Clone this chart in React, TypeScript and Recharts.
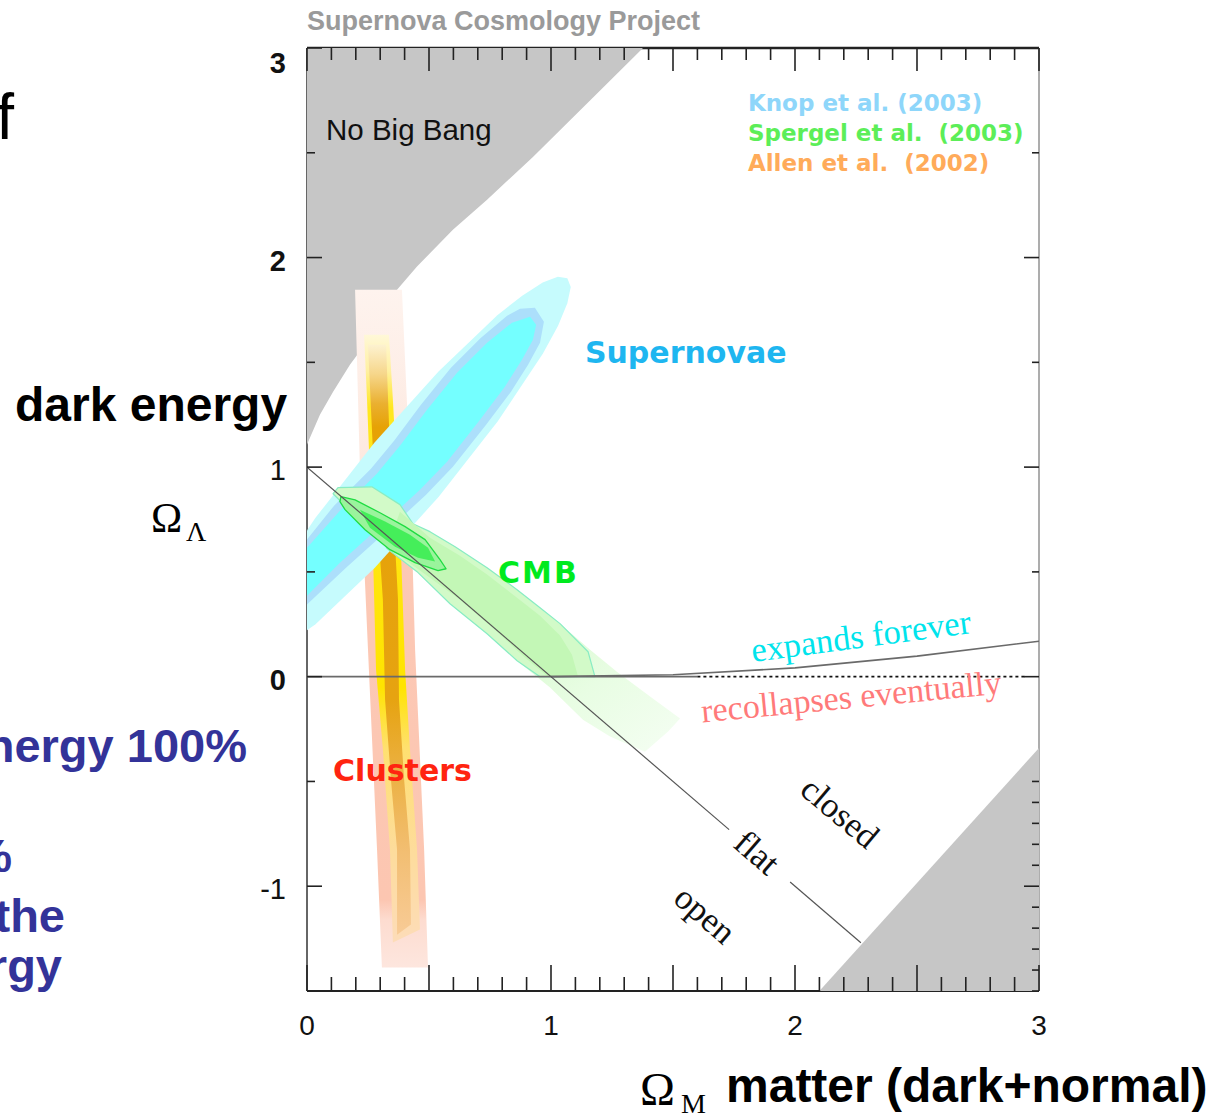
import React from 'react';
import { ComposedChart, Scatter, XAxis, YAxis } from 'recharts';

const SANS = "'Liberation Sans', Arial, Helvetica, sans-serif";
const SERIF = "'Liberation Serif', 'Times New Roman', serif";
const DEJAVU = "'DejaVu Sans', Verdana, sans-serif";

// ---------- ticks ----------
const xTicks = [0, 0.1, 0.2, 0.3, 0.4, 0.5, 0.6, 0.7, 0.8, 0.9, 1, 1.1, 1.2, 1.3, 1.4, 1.5, 1.6, 1.7, 1.8, 1.9, 2, 2.1, 2.2, 2.3, 2.4, 2.5, 2.6, 2.7, 2.8, 2.9, 3];
const xTickLabels = [0, 1, 2, 3];
const yTicksLeft = [-1.5, -1, -0.5, 0, 0.5, 1, 1.5, 2, 2.5, 3];
const yTicksRight = [-1.5, -1.4, -1.3, -1.2, -1.1, -1, -0.9, -0.8, -0.7, -0.6, -0.5, 0, 0.5, 1, 1.5, 2, 2.5, 3];
const yTickLabels = [-1, 0, 1, 2, 3];
const yTickBold = [0, 2, 3];

// ---------- regions (Omega_M, Omega_Lambda) ----------
const noBigBang = [
  { x: 0, y: 3 }, { x: 1.377, y: 3 }, { x: 1.16, y: 2.75 }, { x: 0.926, y: 2.48 }, { x: 0.738, y: 2.276 },
  { x: 0.598, y: 2.133 }, { x: 0.45, y: 1.956 }, { x: 0.369, y: 1.846 }, { x: 0.311, y: 1.727 }, { x: 0.246, y: 1.598 },
  { x: 0.176, y: 1.489 }, { x: 0.107, y: 1.36 }, { x: 0.053, y: 1.25 }, { x: 0.012, y: 1.14 }, { x: 0, y: 1.107 },
];
const lowerGray = [{ x: 2.1, y: -1.5 }, { x: 3, y: -1.5 }, { x: 3, y: -0.34 }];

// ---------- clusters ----------
const clustersOuter = [
  { x: 0.197, y: 1.846 }, { x: 0.389, y: 1.846 }, { x: 0.422, y: 0.988 }, { x: 0.443, y: 0.129 }, { x: 0.48, y: -0.825 },
  { x: 0.496, y: -1.388 }, { x: 0.307, y: -1.388 }, { x: 0.287, y: -0.825 }, { x: 0.25, y: 0.129 }, { x: 0.217, y: 0.988 },
];
const clustersYellow = [
  { x: 0.234, y: 1.632 }, { x: 0.336, y: 1.632 }, { x: 0.352, y: 1.322 }, { x: 0.385, y: 0.606 }, { x: 0.402, y: 0.033 },
  { x: 0.422, y: -0.348 }, { x: 0.451, y: -0.825 }, { x: 0.463, y: -1.207 }, { x: 0.352, y: -1.269 }, { x: 0.34, y: -0.825 },
  { x: 0.311, y: -0.348 }, { x: 0.283, y: 0.033 }, { x: 0.27, y: 0.606 }, { x: 0.246, y: 1.322 },
];
const clustersCore = [
  { x: 0.25, y: 1.584 }, { x: 0.324, y: 1.584 }, { x: 0.34, y: 1.083 }, { x: 0.373, y: 0.367 }, { x: 0.377, y: -0.11 },
  { x: 0.398, y: -0.491 }, { x: 0.422, y: -0.825 }, { x: 0.426, y: -1.183 }, { x: 0.369, y: -1.231 }, { x: 0.369, y: -0.825 },
  { x: 0.344, y: -0.491 }, { x: 0.32, y: -0.11 }, { x: 0.311, y: 0.367 }, { x: 0.27, y: 1.083 },
];

// ---------- supernovae ----------
const snOuter = [
  { x: 1.067, y: 1.901 }, { x: 1.081, y: 1.859 }, { x: 1.067, y: 1.782 }, { x: 1.029, y: 1.675 }, { x: 0.967, y: 1.542 },
  { x: 0.782, y: 1.219 }, { x: 0.54, y: 0.859 }, { x: 0.277, y: 0.519 }, { x: 0.035, y: 0.25 }, { x: 0, y: 0.221 },
  { x: 0, y: 0.698 }, { x: 0.034, y: 0.757 }, { x: 0.276, y: 1.116 }, { x: 0.539, y: 1.456 }, { x: 0.78, y: 1.725 },
  { x: 0.882, y: 1.818 }, { x: 0.966, y: 1.881 }, { x: 1.028, y: 1.909 },
];
const snRing = [
  { x: 0.934, y: 1.761 }, { x: 0.971, y: 1.694 }, { x: 0.955, y: 1.594 }, { x: 0.906, y: 1.489 }, { x: 0.836, y: 1.36 },
  { x: 0.734, y: 1.202 }, { x: 0.598, y: 1.002 }, { x: 0.488, y: 0.868 }, { x: 0.324, y: 0.692 }, { x: 0.16, y: 0.52 },
  { x: 0, y: 0.344 }, { x: 0, y: 0.654 }, { x: 0.111, y: 0.816 }, { x: 0.262, y: 0.992 }, { x: 0.357, y: 1.126 },
  { x: 0.467, y: 1.298 }, { x: 0.59, y: 1.474 }, { x: 0.713, y: 1.617 }, { x: 0.82, y: 1.722 }, { x: 0.873, y: 1.756 },
];
const snInner = [
  { x: 0.914, y: 1.718 }, { x: 0.939, y: 1.679 }, { x: 0.926, y: 1.608 }, { x: 0.881, y: 1.512 }, { x: 0.811, y: 1.384 },
  { x: 0.709, y: 1.226 }, { x: 0.574, y: 1.026 }, { x: 0.463, y: 0.892 }, { x: 0.299, y: 0.716 }, { x: 0.135, y: 0.544 },
  { x: 0, y: 0.386 }, { x: 0, y: 0.615 }, { x: 0.135, y: 0.792 }, { x: 0.287, y: 0.969 }, { x: 0.381, y: 1.102 },
  { x: 0.492, y: 1.274 }, { x: 0.615, y: 1.45 }, { x: 0.738, y: 1.594 }, { x: 0.84, y: 1.689 },
];

// ---------- CMB ----------
const cmbFaint = [
  { x: 0.127, y: 0.902 }, { x: 0.266, y: 0.906 }, { x: 0.381, y: 0.821 }, { x: 0.434, y: 0.73 }, { x: 0.504, y: 0.692 },
  { x: 0.607, y: 0.62 }, { x: 0.738, y: 0.52 }, { x: 0.861, y: 0.415 }, { x: 0.955, y: 0.329 }, { x: 1.037, y: 0.253 },
  { x: 1.16, y: 0.129 }, { x: 1.27, y: 0.024 }, { x: 1.406, y: -0.095 }, { x: 1.529, y: -0.2 }, { x: 1.48, y: -0.262 },
  { x: 1.385, y: -0.358 }, { x: 1.242, y: -0.286 }, { x: 1.131, y: -0.205 }, { x: 0.996, y: -0.052 }, { x: 0.861, y: 0.076 },
  { x: 0.738, y: 0.205 }, { x: 0.586, y: 0.348 }, { x: 0.451, y: 0.501 }, { x: 0.328, y: 0.611 }, { x: 0.287, y: 0.711 },
  { x: 0.148, y: 0.825 }, { x: 0.107, y: 0.873 },
];
const cmbMain = [
  { x: 0.127, y: 0.902 }, { x: 0.266, y: 0.906 }, { x: 0.381, y: 0.821 }, { x: 0.434, y: 0.73 }, { x: 0.504, y: 0.692 },
  { x: 0.607, y: 0.62 }, { x: 0.738, y: 0.52 }, { x: 0.861, y: 0.415 }, { x: 0.955, y: 0.329 }, { x: 1.037, y: 0.253 },
  { x: 1.152, y: 0.119 }, { x: 1.18, y: 0 }, { x: 0.955, y: 0 }, { x: 0.861, y: 0.076 }, { x: 0.738, y: 0.205 },
  { x: 0.586, y: 0.348 }, { x: 0.451, y: 0.501 }, { x: 0.328, y: 0.611 }, { x: 0.287, y: 0.711 }, { x: 0.148, y: 0.825 },
  { x: 0.107, y: 0.873 },
];
const cmbMid = [
  { x: 0.381, y: 0.787 }, { x: 0.504, y: 0.663 }, { x: 0.627, y: 0.577 }, { x: 0.738, y: 0.487 }, { x: 0.861, y: 0.377 },
  { x: 0.955, y: 0.291 }, { x: 1.037, y: 0.196 }, { x: 1.086, y: 0.105 }, { x: 1.111, y: 0 }, { x: 0.988, y: 0 },
  { x: 0.893, y: 0.091 }, { x: 0.77, y: 0.224 }, { x: 0.627, y: 0.367 }, { x: 0.504, y: 0.472 }, { x: 0.402, y: 0.558 },
  { x: 0.332, y: 0.63 },
];
const cmbInnerOutline = [
  { x: 0.139, y: 0.859 }, { x: 0.197, y: 0.844 }, { x: 0.299, y: 0.782 }, { x: 0.402, y: 0.716 }, { x: 0.484, y: 0.654 },
  { x: 0.545, y: 0.558 }, { x: 0.57, y: 0.515 }, { x: 0.537, y: 0.506 }, { x: 0.443, y: 0.544 }, { x: 0.34, y: 0.606 },
  { x: 0.238, y: 0.701 }, { x: 0.156, y: 0.797 }, { x: 0.135, y: 0.835 },
];
const cmbInnerCore = [
  { x: 0.217, y: 0.797 }, { x: 0.32, y: 0.74 }, { x: 0.422, y: 0.677 }, { x: 0.496, y: 0.615 }, { x: 0.525, y: 0.549 },
  { x: 0.455, y: 0.568 }, { x: 0.361, y: 0.62 }, { x: 0.258, y: 0.711 },
];

// ---------- lines ----------
const zeroLine = [{ x: 0, y: 0 }, { x: 1.6, y: 0 }];
const expandBoundary = [{ x: 1, y: 0 }, { x: 1.5, y: 0.009 }, { x: 2, y: 0.042 }, { x: 2.5, y: 0.098 }, { x: 3, y: 0.169 }];
const zeroDotted = [{ x: 1.6, y: 0 }, { x: 2.94, y: 0 }];
const flatLineA = [{ x: 0, y: 1 }, { x: 1.73, y: -0.73 }];
const flatLineB = [{ x: 1.98, y: -0.98 }, { x: 2.27, y: -1.27 }];

// ---------- annotations ----------
const annotations = [
  { id: 'nbb', text: 'No Big Bang', x: 0.078, y: 2.61 },
  { id: 'knop', text: 'Knop et al. (2003)', x: 1.807, y: 2.739 },
  { id: 'sperg', text: 'Spergel et al.  (2003)', x: 1.807, y: 2.595 },
  { id: 'allen', text: 'Allen et al.  (2002)', x: 1.807, y: 2.452 },
  { id: 'sn', text: 'Supernovae', x: 1.139, y: 1.546 },
  { id: 'cmb', text: 'CMB', x: 0.783, y: 0.496 },
  { id: 'cl', text: 'Clusters', x: 0.107, y: -0.448 },
  { id: 'exp', text: 'expands forever', x: 2.27, y: 0.196 },
  { id: 'rec', text: 'recollapses eventually', x: 2.23, y: -0.095 },
  { id: 'closed', text: 'closed', x: 2.184, y: -0.649 },
  { id: 'flat', text: 'flat', x: 1.844, y: -0.84 },
  { id: 'open', text: 'open', x: 1.631, y: -1.136 },
];

type AStyle = { color: string; size: number; weight?: number; font: string; anchor?: string; rot?: number; ls?: number };
const annotationStyle: Record<string, AStyle> = {
  nbb: { color: '#111', size: 29.5, weight: 400, font: SANS },
  knop: { color: '#8ed6fa', size: 23, weight: 700, font: DEJAVU },
  sperg: { color: '#5cee58', size: 23, weight: 700, font: DEJAVU },
  allen: { color: '#ffab5a', size: 23, weight: 700, font: DEJAVU },
  sn: { color: '#1eb6f0', size: 30, weight: 700, font: DEJAVU },
  cmb: { color: '#00ea1e', size: 30, weight: 700, font: DEJAVU, ls: 2 },
  cl: { color: '#ff2410', size: 30, weight: 700, font: DEJAVU },
  exp: { color: '#00e4ec', size: 34.5, font: SERIF, anchor: 'middle', rot: -7.5 },
  rec: { color: '#ff7a7a', size: 34, font: SERIF, anchor: 'middle', rot: -5.5 },
  closed: { color: '#111', size: 35, font: SERIF, anchor: 'middle', rot: 40 },
  flat: { color: '#111', size: 35, font: SERIF, anchor: 'middle', rot: 41 },
  open: { color: '#111', size: 35, font: SERIF, anchor: 'middle', rot: 41 },
};

// ---------- renderers ----------
type Grad = { id: string; x2?: number; y2?: number; stops: [number, string][] };
type PolyOpts = { stroke?: string; sw?: number; grad?: Grad; closed?: boolean; dash?: string };

const polygon = (fill: string, opts: PolyOpts = {}) => (p: any) => {
  const pts: { x: number; y: number }[] = (p && p.points) || [];
  if (!pts.length) return <g />;
  const closed = opts.closed !== false;
  const d = pts.map((q, i) => `${i ? 'L' : 'M'}${q.x.toFixed(2)},${q.y.toFixed(2)}`).join(' ') + (closed ? ' Z' : '');
  const g = opts.grad;
  return (
    <g>
      {g && (
        <defs>
          <linearGradient id={g.id} x1="0" y1="0" x2={g.x2 ?? 0} y2={g.y2 ?? 1}>
            {g.stops.map(([o, c], i) => (
              <stop key={i} offset={o} stopColor={c} />
            ))}
          </linearGradient>
        </defs>
      )}
      <path
        d={d}
        fill={closed ? (g ? `url(#${g.id})` : fill) : 'none'}
        stroke={opts.stroke ?? 'none'}
        strokeWidth={opts.sw ?? 0}
        strokeDasharray={opts.dash}
        strokeLinejoin="round"
      />
    </g>
  );
};
const polyline = (stroke: string, sw: number, dash?: string) => polygon('none', { stroke, sw, closed: false, dash });

const Empty = () => <g />;

const AnnotationShape = (props: any) => {
  const d = props.payload ?? props;
  const st = annotationStyle[d.id];
  const { cx, cy } = props;
  if (!st || cx == null || cy == null) return <g />;
  return (
    <text
      x={cx}
      y={cy}
      textAnchor={(st.anchor as any) ?? 'start'}
      dominantBaseline="central"
      fontFamily={st.font}
      fontSize={st.size}
      fontWeight={st.weight ?? 400}
      letterSpacing={st.ls ?? 0}
      fill={st.color}
      transform={st.rot ? `rotate(${st.rot} ${cx} ${cy})` : undefined}
      style={{ whiteSpace: 'pre' }}
    >
      {d.text}
    </text>
  );
};

const isMult = (v: number, step: number) => Math.abs(v / step - Math.round(v / step)) < 1e-6;

const BottomTick = (p: any) => {
  const { x, y, payload } = p;
  const v = payload.value;
  const len = isMult(v, 0.5) ? 26 : 14;
  return (
    <g>
      <line x1={x} x2={x} y1={y} y2={y - len} stroke="#222" strokeWidth={1.6} />
      {xTickLabels.includes(v) && (
        <text x={x} y={y + 44} textAnchor="middle" fontFamily={SANS} fontSize={28} fill="#111">
          {v}
        </text>
      )}
    </g>
  );
};
const TopTick = (p: any) => {
  const { x, y, payload } = p;
  const len = isMult(payload.value, 0.5) ? 23 : 12;
  return <line x1={x} x2={x} y1={y} y2={y + len} stroke="#222" strokeWidth={1.6} />;
};
const LeftTick = (p: any) => {
  const { x, y, payload } = p;
  const v = payload.value;
  const len = isMult(v, 1) ? 15 : 8;
  return (
    <g>
      <line x1={x} x2={x + len} y1={y} y2={y} stroke="#222" strokeWidth={1.6} />
      {yTickLabels.includes(v) && (
        <text
          x={x - 21}
          y={y + (v === 3 ? 25 : 13)}
          textAnchor="end"
          fontFamily={SANS}
          fontSize={29}
          fontWeight={yTickBold.includes(v) ? 700 : 400}
          fill="#111"
        >
          {v}
        </text>
      )}
    </g>
  );
};
const RightTick = (p: any) => {
  const { x, y, payload } = p;
  const len = isMult(payload.value, 1) ? 15 : 7;
  return <line x1={x} x2={x - len} y1={y} y2={y} stroke="#222" strokeWidth={1.6} />;
};

const gPink: Grad = {
  id: 'gPink',
  stops: [[0, '#fef3ee'], [0.25, '#fde9e0'], [0.29, '#fcc9b6'], [0.9, '#fcc6b1'], [0.93, '#fddcd0'], [1, '#fde6de']],
};
const gYellow: Grad = {
  id: 'gYellow',
  stops: [[0, '#fff8d8'], [0.06, '#fff0a0'], [0.12, '#ffe720'], [0.58, '#ffe400'], [0.68, '#ffe070'], [0.85, '#fddc9c'], [1, '#fddcb8']],
};
const gOrange: Grad = {
  id: 'gOrange',
  stops: [[0, '#fdf2d0'], [0.05, '#f6d68a'], [0.1, '#eab030'], [0.14, '#e6a205'], [0.6, '#e6a311'], [0.72, '#ebb040'], [0.86, '#f2be72'], [1, '#f8cb96']],
};
const gCmb: Grad = {
  id: 'gCmb',
  x2: 1,
  y2: 1,
  stops: [[0, '#d6fbcd'], [0.55, '#d9fbd0'], [0.75, '#e8fde3'], [1, '#f5fef3']],
};

const layer = (data: any[], line: any, key: string) => (
  <Scatter key={key} data={data} line={line} shape={Empty} isAnimationActive={false} legendType="none" />
);

export default function App() {
  return (
    <div style={{ position: 'absolute', left: 0, top: 0, width: 1220, height: 1115, background: '#fff', overflow: 'hidden' }}>
      <ComposedChart width={1220} height={1115} margin={{ top: 18, right: 121, bottom: 94, left: 247 }}>
        {layer(noBigBang, polygon('#c6c6c6'), 'nbb')}
        {layer(lowerGray, polygon('#c6c6c6'), 'lg')}
        {layer(clustersOuter, polygon('#fcc8b4', { grad: gPink }), 'co')}
        {layer(clustersYellow, polygon('#ffe400', { grad: gYellow }), 'cy')}
        {layer(clustersCore, polygon('#e6a300', { grad: gOrange }), 'cc')}
        {layer(snOuter, polygon('#c6fbfd'), 'so')}
        {layer(snRing, polygon('#acdffb'), 'sr')}
        {layer(snInner, polygon('#74ffff'), 'si')}
        {layer(cmbFaint, polygon('#e6fce0', { grad: gCmb }), 'cf')}
        {layer(cmbMain, polygon('#d2fac8', { stroke: '#88ecc4', sw: 1.2 }), 'cm')}
        {layer(cmbMid, polygon('#c3f7b6'), 'cmid')}
        {layer(cmbInnerOutline, polygon('#9af49c', { stroke: '#1fdc42', sw: 1.3 }), 'cio')}
        {layer(cmbInnerCore, polygon('#45ee5a'), 'cic')}
        {layer(zeroLine, polyline('#6a6a6a', 1.6), 'zl')}
        {layer(expandBoundary, polyline('#6a6a6a', 1.6), 'eb')}
        {layer(zeroDotted, polyline('#111', 1.6, '3 3'), 'zd')}
        {layer(flatLineA, polyline('#555', 1.2), 'fa')}
        {layer(flatLineB, polyline('#555', 1.2), 'fb')}
        <Scatter data={annotations} shape={AnnotationShape} isAnimationActive={false} legendType="none" />
        <XAxis
          xAxisId={0}
          type="number"
          dataKey="x"
          domain={[0, 3]}
          ticks={xTicks}
          interval={0}
          allowDataOverflow
          tickSize={0}
          tickMargin={0}
          tick={BottomTick}
          tickLine={false}
          axisLine={{ stroke: '#222', strokeWidth: 2 }}
          height={30}
        />
        <XAxis
          xAxisId="top"
          orientation="top"
          type="number"
          dataKey="x"
          domain={[0, 3]}
          ticks={xTicks}
          interval={0}
          allowDataOverflow
          tickSize={0}
          tickMargin={0}
          tick={TopTick}
          tickLine={false}
          axisLine={{ stroke: '#222', strokeWidth: 2.5 }}
          height={30}
        />
        <YAxis
          yAxisId={0}
          type="number"
          dataKey="y"
          domain={[-1.5, 3]}
          ticks={yTicksLeft}
          interval={0}
          allowDataOverflow
          tickSize={0}
          tickMargin={0}
          tick={LeftTick}
          tickLine={false}
          axisLine={{ stroke: '#666', strokeWidth: 2 }}
          width={60}
        />
        <YAxis
          yAxisId="right"
          orientation="right"
          type="number"
          dataKey="y"
          domain={[-1.5, 3]}
          ticks={yTicksRight}
          interval={0}
          allowDataOverflow
          tickSize={0}
          tickMargin={0}
          tick={RightTick}
          tickLine={false}
          axisLine={{ stroke: '#999', strokeWidth: 1.6 }}
          width={60}
        />
      </ComposedChart>
      <svg width={1220} height={1115} style={{ position: 'absolute', left: 0, top: 0, pointerEvents: 'none' }}>
        <text x={14} y={139} textAnchor="end" fontFamily={SANS} fontSize={64} fill="#000">of</text>
        <text x={15} y={421} fontFamily={SANS} fontWeight={700} fontSize={48} fill="#000">dark energy</text>
        <text x={247} y={762} textAnchor="end" fontFamily={SANS} fontWeight={700} fontSize={47} fill="#333399">energy 100%</text>
        <text x={12} y={872} textAnchor="end" fontFamily={SANS} fontWeight={700} fontSize={47} fill="#333399">25%</text>
        <text x={65} y={932} textAnchor="end" fontFamily={SANS} fontWeight={700} fontSize={47} fill="#333399">the</text>
        <text x={62} y={982} textAnchor="end" fontFamily={SANS} fontWeight={700} fontSize={47} fill="#333399">energy</text>
        <text x={307} y={30} fontFamily={SANS} fontWeight={700} fontSize={27} fill="#9a9a9a">Supernova Cosmology Project</text>
        <text x={151} y={532} fontFamily={SERIF} fontSize={42} fill="#000">Ω</text>
        <text x={186} y={541} fontFamily={SERIF} fontSize={28} fill="#000">Λ</text>
        <text x={640} y={1105} fontFamily={SERIF} fontSize={47} fill="#000">Ω</text>
        <text x={681} y={1113} fontFamily={SERIF} fontSize={28} fill="#000">M</text>
        <text x={726} y={1102} fontFamily={SANS} fontWeight={700} fontSize={48} fill="#000">matter (dark+normal)</text>
      </svg>
    </div>
  );
}
